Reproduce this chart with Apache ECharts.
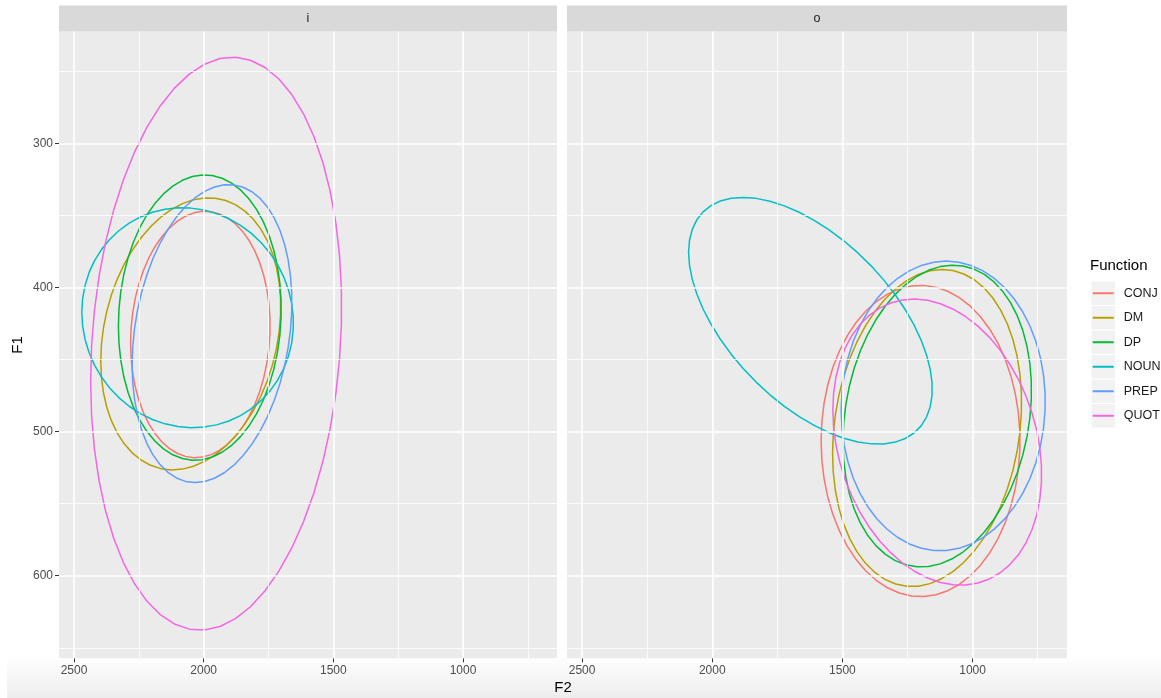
<!DOCTYPE html>
<html>
<head>
<meta charset="utf-8">
<script src="https://cdn.jsdelivr.net/npm/echarts@6/dist/echarts.min.js"></script>
<style>
  html, body { margin: 0; padding: 0; background: #ffffff; }
  #chart { width: 1161px; height: 698px; }
</style>
</head>
<body>
<div id="chart"></div>
<script>
// Groups and their hue colours
const functions = ['CONJ', 'DM', 'DP', 'NOUN', 'PREP', 'QUOT'];
const colors = ['#F8766D', '#B79F00', '#00BA38', '#00BFC4', '#619CFF', '#F564E3'];
const facets = ['i', 'o'];

// Ellipse parameters per facet: centre (F2, F1), spread along F2 and F1, correlation
const centerF2_i = [2013, 2050, 2015, 2062, 1968, 1952];
const centerF1_i = [432.6, 432.2, 420.9, 421.0, 432.0, 439.0];
const spreadF2_i = [269, 347, 314, 408, 308, 484];
const spreadF1_i = [85.5, 94.4, 99.0, 76.3, 103.4, 198.8];
const corr_i = [0.07, 0.20, 0.06, -0.05, 0.21, 0.13];

const centerF2_o = [1200, 1175, 1136, 1623, 1113, 1136];
const centerF1_o = [506.5, 497.5, 489.2, 423.1, 482.2, 507.3];
const spreadF2_o = [382, 363, 362, 468, 392, 401];
const spreadF1_o = [108.0, 110.0, 104.7, 85.6, 100.5, 99.3];
const corr_o = [0.00, 0.16, 0.17, -0.555, 0.03, -0.224];

// Axis breaks
const f2Major = [2500, 2000, 1500, 1000];
const f2Minor = [2250, 1750, 1250, 750];
const f1Major = [300, 400, 500, 600];
const f1Minor = [250, 350, 450, 550, 650];
const f2Range = [637.5, 2558];
const f1Range = [222.4, 657.3];

const SEGMENTS = 51;
const FONT = 'Liberation Sans, Arial, sans-serif';

// Outline of an ellipse from centre, spreads and correlation (Cholesky of the shape matrix)
function ellipseOutline(cx, cy, sx, sy, r) {
  const pts = [];
  const k = Math.sqrt(1 - r * r);
  for (let i = 0; i <= SEGMENTS; i++) {
    const t = (2 * Math.PI * i) / SEGMENTS;
    pts.push([cx + sx * Math.cos(t), cy + sy * (r * Math.cos(t) + k * Math.sin(t))]);
  }
  return pts;
}

const facetParams = [
  { cx: centerF2_i, cy: centerF1_i, sx: spreadF2_i, sy: spreadF1_i, r: corr_i },
  { cx: centerF2_o, cy: centerF1_o, sx: spreadF2_o, sy: spreadF1_o, r: corr_o }
];

const panels = [
  { left: 59, width: 498 },
  { left: 567, width: 500 }
];
const panelTop = 31.5;
const panelBottom = 658.3;

const grids = panels.map(p => ({
  left: p.left, width: p.width, top: panelTop, height: panelBottom - panelTop,
  show: true, backgroundColor: '#EBEBEB', borderWidth: 0
}));

const tickLabelStyle = { color: '#4D4D4D', fontSize: 12, fontFamily: FONT, formatter: v => String(v) };

const xAxes = panels.map((p, k) => ({
  type: 'value', gridIndex: k, inverse: true, min: f2Range[0], max: f2Range[1],
  axisLine: { show: false },
  axisTick: { show: true, customValues: f2Major, length: 4, lineStyle: { color: '#333333', width: 1 } },
  axisLabel: Object.assign({ show: true, customValues: f2Major, margin: 6 }, tickLabelStyle),
  splitLine: { show: false }
}));

const yAxes = panels.map((p, k) => ({
  type: 'value', gridIndex: k, inverse: true, min: f1Range[0], max: f1Range[1],
  axisLine: { show: false },
  axisTick: { show: k === 0, customValues: f1Major, length: 4, lineStyle: { color: '#333333', width: 1 } },
  axisLabel: Object.assign({ show: k === 0, customValues: f1Major, margin: 6 }, tickLabelStyle),
  splitLine: { show: false }
}));

const series = [];

// Panel gridlines
panels.forEach((p, k) => {
  const lines = [];
  f2Minor.forEach(v => lines.push({ xAxis: v, lineStyle: { color: '#FFFFFF', width: 0.8, type: 'solid' } }));
  f1Minor.forEach(v => lines.push({ yAxis: v, lineStyle: { color: '#FFFFFF', width: 0.8, type: 'solid' } }));
  f2Major.forEach(v => lines.push({ xAxis: v, lineStyle: { color: '#FFFFFF', width: 1.6, type: 'solid' } }));
  f1Major.forEach(v => lines.push({ yAxis: v, lineStyle: { color: '#FFFFFF', width: 1.6, type: 'solid' } }));
  series.push({
    type: 'line', xAxisIndex: k, yAxisIndex: k, data: [], z: 1, silent: true,
    markLine: { silent: true, symbol: ['none', 'none'], label: { show: false }, animation: false, data: lines }
  });
});

// Ellipses
facetParams.forEach((fp, k) => {
  functions.forEach((fn, j) => {
    series.push({
      name: fn, type: 'line', xAxisIndex: k, yAxisIndex: k, z: 3,
      data: ellipseOutline(fp.cx[j], fp.cy[j], fp.sx[j], fp.sy[j], fp.r[j]),
      showSymbol: false, symbol: 'none', smooth: false, silent: true,
      lineStyle: { color: colors[j], width: 1.5 },
      itemStyle: { color: colors[j] },
      emphasis: { disabled: true }
    });
  });
});

const keyTop = 281;
const keyStep = 24.5;

const graphic = [];
// Soft band along the bottom edge
graphic.push({
  type: 'rect', z: 0, silent: true,
  shape: { x: 7, y: 655, width: 1154, height: 43 },
  style: { fill: new echarts.graphic.LinearGradient(0, 0, 0, 1, [
    { offset: 0, color: 'rgba(239,239,239,0)' }, { offset: 1, color: '#EDEDED' }
  ]) }
});
// Facet strips
panels.forEach((p, k) => {
  graphic.push({
    type: 'rect', z: 2, silent: true,
    shape: { x: p.left, y: 5.5, width: p.width, height: panelTop - 5.5 },
    style: { fill: '#D9D9D9' }
  });
  graphic.push({
    type: 'text', z: 3, silent: true,
    x: p.left + p.width / 2, y: (5.5 + panelTop) / 2,
    style: { text: facets[k], fill: '#1A1A1A', fontSize: 12.5, fontFamily: FONT,
      align: 'center', verticalAlign: 'middle' }
  });
});
// Axis titles
graphic.push({
  type: 'text', z: 3, silent: true, x: 563, y: 688,
  style: { text: 'F2', fill: '#000000', fontSize: 15, fontFamily: FONT,
    align: 'center', verticalAlign: 'middle' }
});
graphic.push({
  type: 'text', z: 3, silent: true, x: 18, y: (panelTop + panelBottom) / 2, rotation: Math.PI / 2,
  style: { text: 'F1', fill: '#000000', fontSize: 15, fontFamily: FONT,
    align: 'center', verticalAlign: 'middle' }
});
// Legend title and key backgrounds
graphic.push({
  type: 'text', z: 3, silent: true, x: 1090, y: 266,
  style: { text: 'Function', fill: '#000000', fontSize: 15, fontFamily: FONT,
    align: 'left', verticalAlign: 'middle' }
});
functions.forEach((fn, j) => {
  graphic.push({
    type: 'rect', z: 1, silent: true,
    shape: { x: 1091.5, y: keyTop + j * keyStep + 0.5, width: 23.5, height: keyStep - 1 },
    style: { fill: '#F2F2F2' }
  });
});

const chart = echarts.init(document.getElementById('chart'), null, { renderer: 'canvas' });
chart.setOption({
  animation: false,
  backgroundColor: '#FFFFFF',
  grid: grids,
  xAxis: xAxes,
  yAxis: yAxes,
  legend: {
    data: functions, orient: 'vertical', left: 1092.7, top: keyTop, z: 5, padding: 0,
    icon: 'rect', itemWidth: 21, itemHeight: 2, itemGap: 0, selectedMode: false,
    textStyle: { color: '#1A1A1A', fontSize: 12.5, fontFamily: FONT,
      lineHeight: keyStep, height: keyStep, padding: [0, 0, 0, 5] }
  },
  graphic: graphic,
  series: series
});
</script>
</body>
</html>
